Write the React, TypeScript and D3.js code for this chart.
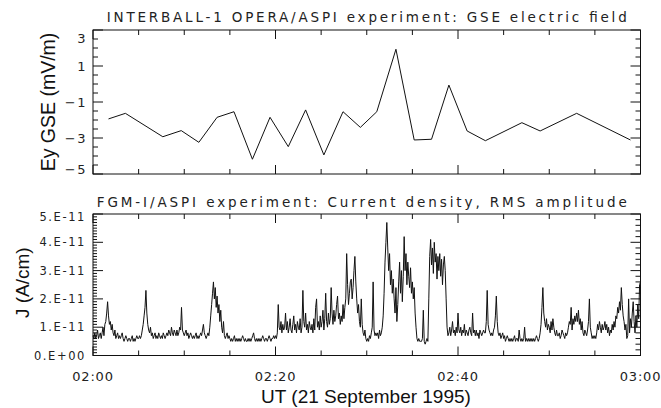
import * as d3 from 'd3';

// top panel: Ey GSE samples (minutes after 02:00, mV/m)
const eyMinutes = [1.7, 3.55, 7.65, 9.67, 11.6, 13.6, 15.45, 17.47, 19.4, 21.4, 23.3, 25.3, 27.4, 29.3, 31.1, 33.2, 35.2, 37.1, 39.0, 41.0, 43.0, 47.0, 49.0, 53.0, 58.9];
const eyValues = [-1.94, -1.63, -2.93, -2.59, -3.24, -1.85, -1.54, -4.18, -1.85, -3.48, -1.44, -3.94, -1.54, -2.41, -1.54, 1.93, -3.11, -3.07, -0.06, -2.61, -3.15, -2.15, -2.61, -1.63, -3.11];

// bottom panel: RMS current density, units of 1e-12 A/cm, one row per minute, 0.1 min steps
const jRows = [
  [7, 6, 8, 6, 7, 9, 6, 7, 8, 6],
  [8, 10, 7, 11, 12, 15, 19, 14, 11, 12],
  [9, 11, 8, 7, 9, 6, 7, 8, 6, 7],
  [6, 7, 8, 6, 5, 6, 7, 6, 5, 6],
  [6, 5, 6, 7, 5, 6, 5, 6, 7, 6],
  [6, 7, 6, 7, 9, 11, 14, 17, 23, 15],
  [11, 9, 8, 10, 7, 8, 6, 7, 8, 6],
  [7, 6, 8, 7, 6, 7, 6, 8, 7, 6],
  [7, 8, 7, 9, 8, 7, 10, 8, 7, 9],
  [8, 7, 9, 7, 8, 10, 9, 17, 9, 8],
  [7, 8, 9, 7, 8, 6, 7, 8, 7, 6],
  [7, 6, 7, 8, 6, 7, 6, 7, 8, 7],
  [9, 11, 8, 7, 6, 7, 8, 7, 10, 14],
  [18, 22, 26, 20, 24, 17, 21, 15, 18, 12],
  [16, 10, 8, 12, 7, 6, 7, 8, 6, 7],
  [6, 5, 6, 5, 6, 7, 5, 6, 5, 6],
  [5, 6, 5, 6, 7, 6, 5, 6, 5, 5],
  [6, 5, 6, 5, 6, 7, 8, 6, 5, 6],
  [5, 6, 5, 6, 5, 6, 7, 6, 5, 6],
  [6, 5, 6, 7, 6, 5, 6, 6, 7, 6],
  [7, 6, 8, 18, 10, 9, 12, 8, 11, 9],
  [10, 15, 9, 12, 8, 10, 13, 9, 8, 11],
  [14, 9, 11, 8, 12, 10, 9, 13, 8, 10],
  [23, 12, 10, 15, 9, 11, 8, 12, 10, 9],
  [11, 8, 13, 9, 17, 20, 10, 12, 9, 14],
  [10, 12, 16, 9, 13, 22, 12, 10, 15, 11],
  [13, 24, 15, 11, 16, 12, 14, 18, 21, 13],
  [15, 11, 14, 12, 18, 13, 17, 20, 36, 25],
  [18, 22, 26, 27, 20, 24, 30, 35, 26, 20],
  [15, 18, 12, 10, 20, 11, 8, 7, 9, 6],
  [5, 6, 5, 7, 6, 8, 10, 26, 9, 7],
  [8, 7, 8, 6, 9, 7, 8, 10, 14, 22],
  [33, 40, 47, 38, 30, 36, 25, 30, 22, 27],
  [20, 15, 24, 12, 18, 26, 33, 22, 30, 19],
  [28, 42, 30, 36, 25, 33, 28, 24, 31, 22],
  [26, 20, 24, 15, 10, 6, 5, 6, 5, 5],
  [5, 6, 16, 5, 4, 5, 6, 5, 20, 35],
  [41, 32, 38, 29, 40, 33, 36, 27, 35, 30],
  [36, 28, 34, 25, 32, 35, 30, 20, 10, 7],
  [8, 10, 7, 9, 12, 8, 9, 7, 10, 8],
  [15, 9, 8, 10, 7, 9, 8, 11, 7, 9],
  [8, 7, 9, 10, 8, 7, 15, 8, 9, 7],
  [9, 7, 8, 6, 9, 8, 7, 8, 9, 8],
  [8, 12, 23, 11, 9, 8, 7, 8, 7, 9],
  [10, 14, 21, 12, 8, 7, 8, 6, 7, 8],
  [6, 7, 5, 6, 7, 6, 5, 6, 5, 6],
  [5, 6, 7, 5, 6, 6, 5, 9, 6, 5],
  [6, 5, 6, 10, 5, 6, 5, 6, 5, 6],
  [5, 6, 5, 6, 5, 6, 7, 6, 5, 6],
  [8, 11, 17, 24, 15, 12, 10, 13, 9, 11],
  [10, 8, 12, 9, 13, 10, 8, 7, 9, 7],
  [7, 8, 6, 7, 9, 8, 7, 6, 8, 7],
  [8, 10, 12, 11, 17, 9, 13, 11, 14, 12],
  [15, 12, 16, 11, 13, 9, 12, 8, 7, 9],
  [8, 7, 9, 12, 20, 10, 8, 6, 7, 6],
  [7, 6, 8, 11, 9, 12, 10, 8, 11, 9],
  [10, 12, 9, 11, 8, 10, 7, 9, 8, 11],
  [9, 12, 10, 14, 13, 17, 15, 19, 16, 24],
  [18, 14, 12, 9, 11, 6, 7, 20, 8, 13],
  [10, 15, 19, 12, 8, 14, 10, 18, 13, 25],
  [26],
];

const timeTicks = [0, 20, 40, 60];
const timeLabels = ['02:00', '02:20', '02:40', '03:00'];
const eyTicks = [-5, -3, -1, 1, 3];
const eyLabels = ['\u22125', '\u22123', '\u22121', '1', '3'];
const jTicks = [0, 10, 20, 30, 40, 50];
const jLabels = ['0.E+00', '1.E-11', '2.E-11', '3.E-11', '4.E-11', '5.E-11'];

const W = 661;
const H = 408;
const LEFT = 93;
const RIGHT = 640.5;
const TOP_PANEL = { top: 30, bottom: 174 };
const BOT_PANEL = { top: 214, bottom: 355.5 };

const tickFont = '"DejaVu Sans", sans-serif';
const labelFont = '"Liberation Sans", Arial, sans-serif';

function TimeTicks({ x, top, bottom }: { x: d3.ScaleLinear<number, number>; top: number; bottom: number }) {
  const minor = d3.range(0, 61, 5);
  return (
    <g stroke="#111" strokeWidth={1}>
      {minor.map((m) => {
        const len = m % 20 === 0 ? 9 : 5;
        return (
          <g key={m}>
            <line x1={x(m)} x2={x(m)} y1={top} y2={top + len} />
            <line x1={x(m)} x2={x(m)} y1={bottom} y2={bottom - len} />
          </g>
        );
      })}
    </g>
  );
}

export default function App() {
  const x = d3.scaleLinear().domain([0, 60]).range([LEFT, RIGHT]);
  const yEy = d3.scaleLinear().domain([-5, 3]).range([TOP_PANEL.bottom, TOP_PANEL.top]);
  const yJ = d3.scaleLinear().domain([0, 50]).range([BOT_PANEL.bottom, BOT_PANEL.top]);

  const eyLine = d3
    .line<number>()
    .x((_, i) => x(eyMinutes[i]))
    .y((v) => yEy(v));

  const jValues = jRows.flat();
  const jLine = d3
    .line<number>()
    .x((_, i) => x(i * 0.1))
    .y((v) => yJ(v));

  const eyMinor = d3.range(-5, 3.01, 0.5);
  const jMinor = d3.range(0, 50.01, 1);
  const jMinorRight = d3.range(0, 50.01, 2);

  return (
    <svg
      width={W}
      height={H}
      style={{ position: 'absolute', left: 0, top: 0, background: '#fff' }}
    >
      {/* titles */}
      <text
        x={(LEFT + RIGHT) / 2}
        y={22}
        textAnchor="middle"
        fontFamily={tickFont}
        fontSize={13.5}
        fill="#222"
        textLength={520}
        lengthAdjust="spacing"
      >
        INTERBALL-1 OPERA/ASPI experiment: GSE electric field
      </text>
      <text
        x={(LEFT + RIGHT) / 2 - 5}
        y={207}
        textAnchor="middle"
        fontFamily={tickFont}
        fontSize={13.5}
        fill="#222"
        textLength={530}
        lengthAdjust="spacing"
      >
        FGM-I/ASPI experiment: Current density, RMS amplitude
      </text>

      {/* top panel */}
      <rect
        x={LEFT}
        y={TOP_PANEL.top}
        width={RIGHT - LEFT}
        height={TOP_PANEL.bottom - TOP_PANEL.top}
        fill="none"
        stroke="#111"
        strokeWidth={1}
      />
      <TimeTicks x={x} top={TOP_PANEL.top} bottom={TOP_PANEL.bottom} />
      <g stroke="#111" strokeWidth={1}>
        {eyMinor.map((v) => {
          const len = eyTicks.includes(v) ? 10 : 5;
          return (
            <g key={v}>
              <line x1={LEFT} x2={LEFT + len} y1={yEy(v)} y2={yEy(v)} />
              <line x1={RIGHT} x2={RIGHT - len} y1={yEy(v)} y2={yEy(v)} />
            </g>
          );
        })}
      </g>
      {eyTicks.map((v, i) => (
        <text
          key={v}
          x={87}
          y={yEy(v)}
          dy={i === eyTicks.length - 1 ? 13 : i === 0 ? 0 : 5}
          textAnchor="end"
          fontFamily={tickFont}
          fontSize={13}
          fill="#222"
          letterSpacing={1.5}
        >
          {eyLabels[i]}
        </text>
      ))}
      <path d={eyLine(eyValues) ?? ''} fill="none" stroke="#111" strokeWidth={1} />
      <text
        transform={`translate(55,${(TOP_PANEL.top + TOP_PANEL.bottom) / 2}) rotate(-90)`}
        textAnchor="middle"
        fontFamily={labelFont}
        fontSize={19.5}
        fill="#111"
      >
        Ey GSE (mV/m)
      </text>

      {/* bottom panel */}
      <rect
        x={LEFT}
        y={BOT_PANEL.top}
        width={RIGHT - LEFT}
        height={BOT_PANEL.bottom - BOT_PANEL.top}
        fill="none"
        stroke="#111"
        strokeWidth={1}
      />
      <TimeTicks x={x} top={BOT_PANEL.top} bottom={BOT_PANEL.bottom} />
      <g stroke="#111" strokeWidth={1}>
        {jMinor.map((v) => {
          const len = v % 10 === 0 ? 10 : 4;
          return <line key={v} x1={LEFT} x2={LEFT + len} y1={yJ(v)} y2={yJ(v)} />;
        })}
        {jMinorRight.map((v) => {
          const len = v % 10 === 0 ? 10 : 5;
          return <line key={v} x1={RIGHT} x2={RIGHT - len} y1={yJ(v)} y2={yJ(v)} />;
        })}
      </g>
      {jTicks.map((v, i) => (
        <text
          key={v}
          x={86}
          y={yJ(v)}
          dy={i === jTicks.length - 1 ? 7 : 4}
          textAnchor="end"
          fontFamily={tickFont}
          fontSize={11.5}
          fill="#222"
          letterSpacing={1.6}
        >
          {jLabels[i]}
        </text>
      ))}
      <path d={jLine(jValues) ?? ''} fill="none" stroke="#111" strokeWidth={1} />
      <text
        transform={`translate(29,${(BOT_PANEL.top + BOT_PANEL.bottom) / 2 - 2}) rotate(-90)`}
        textAnchor="middle"
        fontFamily={labelFont}
        fontSize={19}
        fill="#111"
      >
        J (A/cm)
      </text>

      {/* time axis labels */}
      {timeTicks.map((t, i) => (
        <text
          key={t}
          x={x(t)}
          y={381}
          textAnchor="middle"
          fontFamily={tickFont}
          fontSize={13}
          fill="#222"
          letterSpacing={0.8}
        >
          {timeLabels[i]}
        </text>
      ))}
      <text
        x={366}
        y={403}
        textAnchor="middle"
        fontFamily={labelFont}
        fontSize={19}
        fill="#111"
      >
        UT (21 September 1995)
      </text>
    </svg>
  );
}
